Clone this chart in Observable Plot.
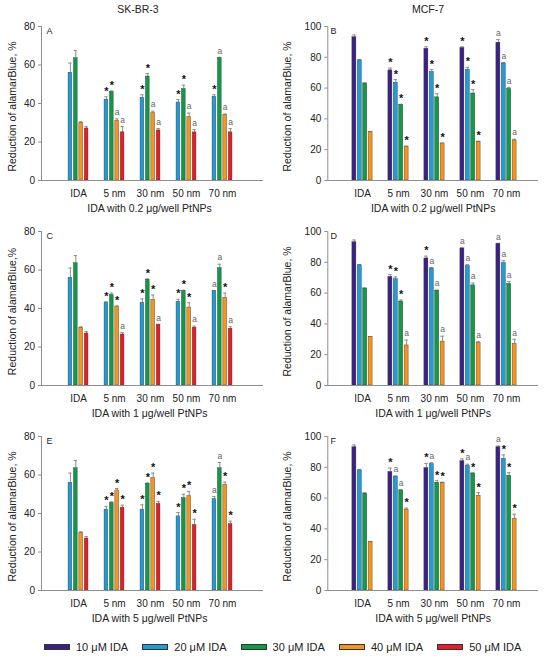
<!DOCTYPE html>
<html><head><meta charset="utf-8">
<script src="https://cdn.jsdelivr.net/npm/d3@7"></script>
<script src="https://cdn.jsdelivr.net/npm/@observablehq/plot@0.6"></script>
<style>
body{margin:0;background:#fff;font-family:"Liberation Sans",Arial,sans-serif;}
#wrap{position:relative;width:550px;height:659px;overflow:hidden;}
.panel{position:absolute;}
.title{position:absolute;top:3px;font-size:10.5px;color:#222;transform:translateX(-50%);white-space:nowrap;}
#legend{position:absolute;left:44px;top:641px;display:flex;align-items:center;}
.item{display:flex;align-items:center;width:98.3px;font-size:11px;color:#222;white-space:nowrap;}
.sw{width:24px;height:4px;border:1px solid #333;margin-right:6px;}
</style></head>
<body><div id="wrap"></div>
<script>
const categories = ["IDA","5 nm","30 nm","50 nm","70 nm"];
const seriesNames = ["10 μM IDA","20 μM IDA","30 μM IDA","40 μM IDA","50 μM IDA"];
const seriesColors = ["#3b2186","#1f9dd9","#0f9a45","#f7941d","#ec1c24"];
const cellLines = ["SK-BR-3","MCF-7"];
const doseLabels = ["IDA with 0.2 μg/well PtNPs","IDA with 1 μg/well PtNPs","IDA with 5 μg/well PtNPs"];
const panelLetters = ["A","B","C","D","E","F"];
const skbrSeries = [1,2,3,4];
const mcfSeries = [0,1,2,3];
const skbrTicks = [0,20,40,60,80];
const mcfTicks = [0,20,40,60,80,100];
const yTitles = ["Reduction of alamarBlue, %","Reduction of alamarBlue, %","Reduction of alamarBlue,%","Reduction of alamarBlue, %","Reduction of alamarBlue, %","Reduction of alamarBlue, %"];

// rows = series (in the panel's series order), columns = categories
const A_values = [[56,42,43,40.5,43.5],[63.5,46,54,47.5,63.5],[30,31,35,33,34],[27,25,26,25,25]];
const A_errors = [[5,1.5,1.5,1.5,1],[4,0.5,1.5,2,0.5],[0.5,1,1,2,0.5],[1,3,1,1.5,2]];
const A_marks  = [["","*","*","*","*"],["","*","*","*","a"],["","a","a","a","a"],["","a","a","a","a"]];

const B_values = [[93,71.5,85.5,86,89.5],[78,63.5,70.5,72,76],[63,49,54,56.5,59.5],[31.5,22,24,25,26]];
const B_errors = [[1.5,1.5,1.3,0.8,2],[0.5,2,1.5,1.5,0.5],[0.3,0.5,2.3,2.5,1],[0.3,0.3,0.3,0.5,0.8]];
const B_marks  = [["","*","*","*","a"],["","*","*","*","a"],["","*","*","*","a"],["","*","*","*","a"]];

const C_values = [[56,43,43,43.5,49],[63.5,47,55,49,61],[30,41,44.5,40.5,45.5],[27,26.5,31.5,30,29.5]];
const C_errors = [[5,0.5,2,1.3,0.3],[4,1,0.3,0.5,2],[0.5,0.3,2.5,2.5,2.5],[1,1,0.3,0.8,1]];
const C_marks  = [["","*","*","*","a"],["","*","*","*","a"],["","*","*","*","*"],["","a","a","a","a"]];

const D_values = [[93,70.5,82.5,89,92],[78,69,76,77.5,79.5],[63,54.5,61.5,65,66],[31.5,26,28.5,27.5,27]];
const D_errors = [[1.5,1.5,1.5,0.3,0.3],[0.5,1.5,0.5,1,1.5],[0.3,1,0.5,1.5,1.5],[0.3,3.5,3.5,1,3]];
const D_marks  = [["","*","*","a","a"],["","*","a","a","a"],["","*","a","a","a"],["","a","a","a","a"]];

const E_values = [[56,42,42,38.5,47.5],[63.5,45.5,55.5,48,63.5],[30,52,58.5,49,55],[27,43,45,34,34.5]];
const E_errors = [[5,1.7,2.5,2,1.3],[4,0.5,0.3,2,3],[0.5,1,2.5,2.5,1.3],[1,1.3,1.3,3,1.5]];
const E_marks  = [["","*","*","*","a"],["","*","*","*","a"],["","*","*","*","*"],["","*","*","*","*"]];

const F_values = [[93,77,79.5,84,93],[78,74,82,81,85.5],[63,65,70,76,74.5],[31.5,52.5,70,61.5,46.5]];
const F_errors = [[1.5,2.5,3,1.5,0.8],[0.5,0.3,1,1,2.5],[0.3,0.3,1.3,0.3,2],[0.3,1,0.3,2,3]];
const F_marks  = [["","*","*","*","a"],["","a","a","a","*"],["","a","*","*","*"],["","*","*","*","*"]];

const panels = [
  {values:A_values, errors:A_errors, marks:A_marks, series:skbrSeries, ticks:skbrTicks, col:0, row:0},
  {values:B_values, errors:B_errors, marks:B_marks, series:mcfSeries, ticks:mcfTicks, col:1, row:0},
  {values:C_values, errors:C_errors, marks:C_marks, series:skbrSeries, ticks:skbrTicks, col:0, row:1},
  {values:D_values, errors:D_errors, marks:D_marks, series:mcfSeries, ticks:mcfTicks, col:1, row:1},
  {values:E_values, errors:E_errors, marks:E_marks, series:skbrSeries, ticks:skbrTicks, col:0, row:2},
  {values:F_values, errors:F_errors, marks:F_marks, series:mcfSeries, ticks:mcfTicks, col:1, row:2}
];

const wrap = document.getElementById("wrap");
const axisGray = "#8e8e8e";
const W = 275, H = 220, MT = 26, MB = 40;
const colGeo = [
  {ml: 41, mr: 12, range: [59.35, 240.85], letterDx: 5, letterDy: 1.5, xLabDx: -3},
  {ml: 52.3, mr: 12, range: [68.5, 248.5], letterDx: 2.7, letterDy: 1, xLabDx: 0}
];
const barW = 4.0, slotStep = 5.4;

panels.forEach((p, k) => {
  const g = colGeo[p.col];
  const rows = [];
  p.series.forEach((s, j) => categories.forEach((c, i) => rows.push({
    cat: c, series: seriesNames[s], slot: j,
    value: p.values[j][i], top: p.values[j][i] + p.errors[j][i], mark: p.marks[j][i]
  })));
  const bw = (g.range[1] - g.range[0]) / categories.length;
  const inset = (bw - barW) / 2;
  const marks = [];
  for (let j = 0; j < p.series.length; j++) {
    const off = (j - (p.series.length - 1) / 2) * slotStep;
    const data = rows.filter(r => r.slot === j);
    marks.push(Plot.ruleX(data, {x: "cat", y1: "value", y2: "top", dx: off, stroke: axisGray, strokeWidth: 1}));
    marks.push(Plot.tickY(data, {x: "cat", y: "top", insetLeft: inset + off + 0.2, insetRight: inset - off + 0.2, stroke: axisGray, strokeWidth: 1}));
    marks.push(Plot.barY(data, {x: "cat", y: "value", fill: "series", stroke: "#333", strokeWidth: 0.4, insetLeft: inset + off, insetRight: inset - off}));
    marks.push(Plot.text(data.filter(d => d.mark === "*"), {x: "cat", y: "top", text: "mark", dx: off, dy: -5.5, fontSize: 11, fontWeight: "bold", fill: "#111"}));
    marks.push(Plot.text(data.filter(d => d.mark === "a"), {x: "cat", y: "top", text: "mark", dx: off, dy: -6.5, fontSize: 8.5, fill: "#666"}));
  }
  marks.push(Plot.ruleY([0], {stroke: axisGray}));
  marks.push(Plot.frame({anchor: "left", stroke: axisGray}));
  marks.push(Plot.axisY({ticks: p.ticks, tickSize: 3, tickPadding: 3.5, fontSize: 10, stroke: axisGray, fill: "#222", label: null}));
  marks.push(Plot.axisX({tickSize: 0, tickPadding: 9, label: null, fontSize: 10, fill: "#222"}));
  marks.push(Plot.text([yTitles[k]], {frameAnchor: "left", textAnchor: "middle", lineAnchor: "middle", rotate: -90, dx: 12.5 - g.ml, dy: 3, fontSize: 10.5, fill: "#222"}));
  marks.push(Plot.text([doseLabels[p.row]], {frameAnchor: "bottom", textAnchor: "middle", dy: 31, dx: g.xLabDx, fontSize: 10.5, fill: "#222"}));
  marks.push(Plot.text([panelLetters[k]], {frameAnchor: "top-left", textAnchor: "start", lineAnchor: "top", dx: g.letterDx, dy: g.letterDy, fontSize: 9, fill: "#222"}));

  const chart = Plot.plot({
    width: W, height: H,
    marginLeft: g.ml, marginRight: g.mr, marginTop: MT, marginBottom: MB,
    style: {background: "transparent", overflow: "visible", fontFamily: "Liberation Sans, Arial, sans-serif", fontSize: "10px", color: "#222"},
    x: {domain: categories, range: g.range, padding: 0, label: null},
    y: {domain: [0, p.ticks[p.ticks.length - 1]], label: null},
    color: {domain: seriesNames, range: seriesColors},
    marks
  });
  const div = document.createElement("div");
  div.className = "panel";
  div.style.left = (p.col * W) + "px";
  div.style.top = (p.row * 205) + "px";
  div.appendChild(chart);
  wrap.appendChild(div);
});

const titleX = [138, 428];
cellLines.forEach((t, i) => {
  const d = document.createElement("div");
  d.className = "title";
  d.style.left = titleX[i] + "px";
  d.textContent = t;
  wrap.appendChild(d);
});

const legend = document.createElement("div");
legend.id = "legend";
seriesNames.forEach((n, i) => {
  const it = document.createElement("div");
  it.className = "item";
  const sw = document.createElement("div");
  sw.className = "sw";
  sw.style.background = seriesColors[i];
  const tx = document.createElement("span");
  tx.textContent = n;
  it.appendChild(sw); it.appendChild(tx);
  legend.appendChild(it);
});
wrap.appendChild(legend);
</script>
</body></html>
